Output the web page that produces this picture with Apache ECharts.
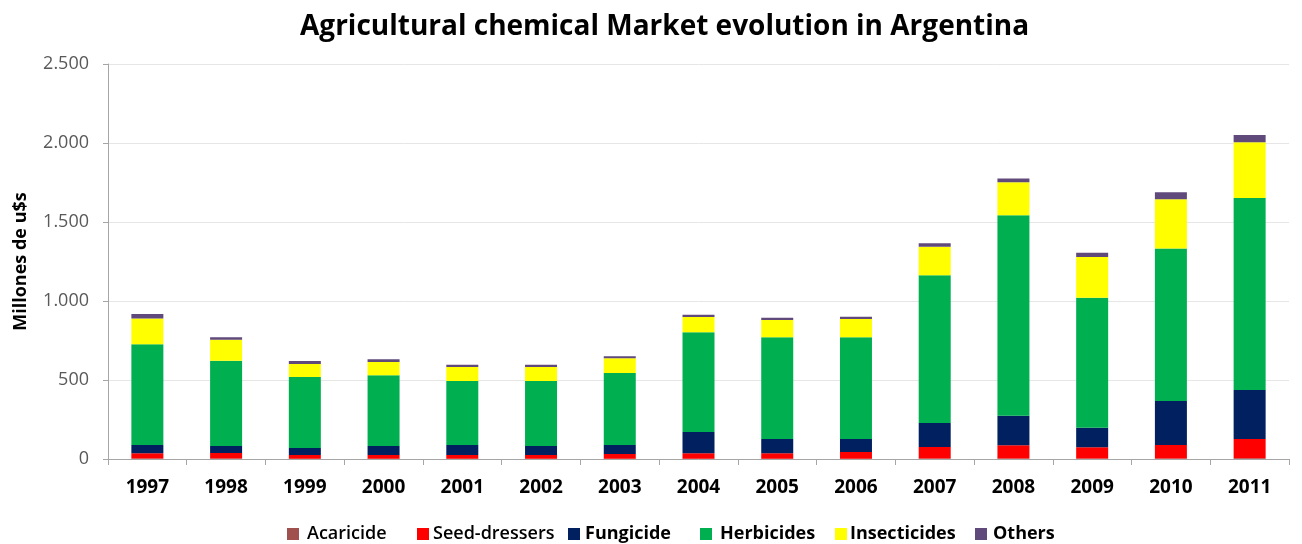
<!DOCTYPE html>
<html>
<head>
<meta charset="utf-8">
<script src="https://cdn.jsdelivr.net/npm/echarts@6/dist/echarts.min.js"></script>
<style>
  html, body { margin: 0; padding: 0; background: #fff; }
  #chart { width: 1302px; height: 544px; }
</style>
</head>
<body>
<div id="chart"></div>
<script>
// Agrochemical market in Argentina, millions of US$, by product family
const years = ['1997','1998','1999','2000','2001','2002','2003','2004','2005','2006','2007','2008','2009','2010','2011'];
const acaricide    = [3, 3, 2, 2, 2, 2, 2, 2, 2, 2, 3, 3, 3, 3, 4];
const seedDressers = [33, 35, 23, 23, 23, 23, 30, 34, 34, 42, 73, 84, 71, 86, 123];
const fungicide    = [53, 44, 45, 57, 64, 57, 57, 135, 91, 83, 152, 187, 124, 278, 310];
const herbicides   = [637, 540, 449, 448, 405, 412, 455, 631, 643, 643, 935, 1269, 823, 965, 1215];
const insecticides = [164, 133, 82, 84, 88, 88, 93, 97, 110, 116, 181, 209, 258, 312, 353];
const others       = [28, 15, 19, 17, 15, 15, 13, 14, 14, 15, 21, 23, 27, 44, 46];
const yTicks = [0, 500, 1000, 1500, 2000, 2500];

const FONT = 'Open Sans';

const seriesDefs = [
  { name: 'Acaricide',     data: acaricide,    color: '#A0504D', weight: 600,    left: 287, gap: 3 },
  { name: 'Seed-dressers', data: seedDressers, color: '#FF0000', weight: 600,    left: 417, gap: -1 },
  { name: 'Fungicide',     data: fungicide,    color: '#002060', weight: 'bold', left: 568, gap: 0 },
  { name: 'Herbicides',    data: herbicides,   color: '#00B050', weight: 'bold', left: 700, gap: 3 },
  { name: 'Insecticides',  data: insecticides, color: '#FFFF00', weight: 'bold', left: 835, gap: -2 },
  { name: 'Others',        data: others,       color: '#604A7B', weight: 'bold', left: 975, gap: 1 }
];

const fmt = v => String(v).replace(/\B(?=(\d{3})+(?!\d))/g, '.');

const chart = echarts.init(document.getElementById('chart'), null, { renderer: 'canvas' });

chart.setOption({
  animation: false,
  backgroundColor: '#ffffff',
  title: {
    text: 'Agricultural chemical Market evolution in Argentina',
    left: 295,
    top: 8,
    textStyle: { fontFamily: FONT, fontWeight: 'bold', fontSize: 28, color: '#000' }
  },
  legend: seriesDefs.map(s => ({
    data: [s.name],
    left: s.left,
    top: 525,
    itemWidth: 12,
    itemHeight: 12,
    itemGap: 0,
    padding: 0,
    icon: 'rect',
    textStyle: {
      fontFamily: FONT,
      fontSize: 18,
      fontWeight: s.weight,
      color: '#000',
      padding: [0, 0, 0, s.gap]
    }
  })),
  grid: { left: 108, right: 13, top: 64, bottom: 85, containLabel: false },
  xAxis: {
    type: 'category',
    data: years,
    axisLine: { lineStyle: { color: '#A6A6A6', width: 1 } },
    axisTick: { show: true, length: 6, lineStyle: { color: '#A6A6A6' } },
    axisLabel: { fontFamily: FONT, fontWeight: 'bold', fontSize: 19, color: '#000', margin: 19 }
  },
  yAxis: {
    type: 'value',
    min: yTicks[0],
    max: yTicks[yTicks.length - 1],
    interval: yTicks[1] - yTicks[0],
    name: 'Millones de u$s',
    nameLocation: 'middle',
    nameGap: 78,
    nameTextStyle: { fontFamily: FONT, fontWeight: 'bold', fontSize: 18, color: '#000' },
    axisLine: { show: true, lineStyle: { color: '#A6A6A6', width: 1 } },
    axisTick: { show: true, length: 5, lineStyle: { color: '#A6A6A6' } },
    splitLine: { lineStyle: { color: '#E6E6E6', width: 1 } },
    axisLabel: { fontFamily: FONT, fontSize: 18, color: '#595959', margin: 19, formatter: fmt }
  },
  series: seriesDefs.map(s => ({
    name: s.name,
    type: 'bar',
    stack: 'total',
    data: s.data,
    barWidth: 32,
    itemStyle: { color: s.color },
    emphasis: { disabled: true }
  }))
});
</script>
</body>
</html>
